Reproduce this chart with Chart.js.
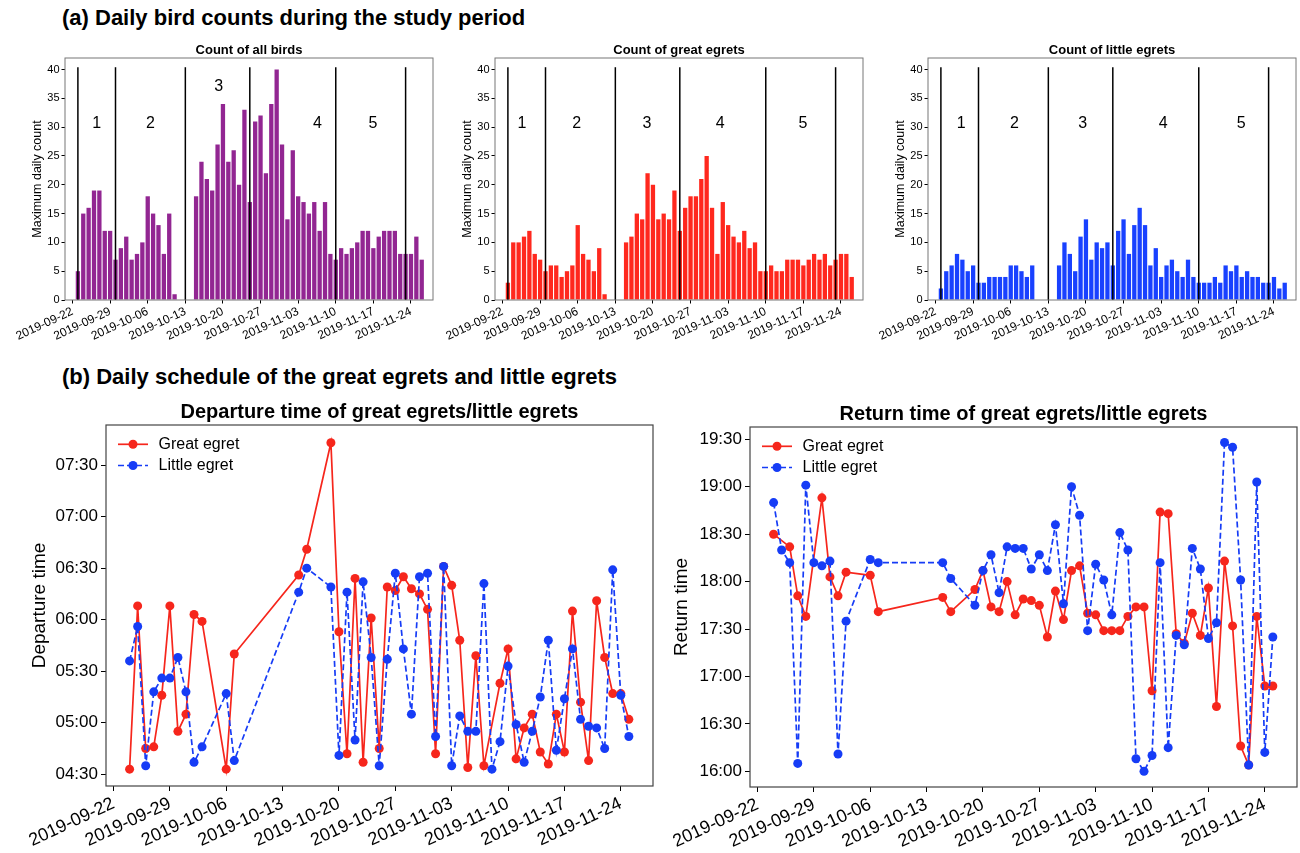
<!DOCTYPE html>
<html><head><meta charset="utf-8">
<script src="https://cdn.jsdelivr.net/npm/chart.js@4.4.1/dist/chart.umd.min.js"></script>
<style>
html,body{margin:0;padding:0;background:#fff;width:1300px;height:853px;overflow:hidden;}
.hdr{position:absolute;left:62px;font-family:"Liberation Sans",Arial,Helvetica,sans-serif;font-weight:bold;font-size:22px;color:#000;line-height:1;white-space:nowrap;z-index:2;}
canvas{position:absolute;}
</style></head><body>
<div class="hdr" style="top:7px">(a) Daily bird counts during the study period</div>
<div class="hdr" style="top:366px">(b) Daily schedule of the great egrets and little egrets</div>
<canvas id="c1"></canvas><canvas id="c2"></canvas><canvas id="c3"></canvas>
<canvas id="c4"></canvas><canvas id="c5"></canvas>
<script>
// ---------------- DATA ----------------
const dateTickLabels = ["2019-09-22","2019-09-29","2019-10-06","2019-10-13","2019-10-20","2019-10-27","2019-11-03","2019-11-10","2019-11-17","2019-11-24"];
const countTicks = [0,5,10,15,20,25,30,35,40];
const periodBoundaries = ["2019-09-23","2019-09-30","2019-10-13","2019-10-25","2019-11-10","2019-11-23"];
const periodNames = ["1","2","3","4","5"];

const barDates = ["2019-09-23","2019-09-24","2019-09-25","2019-09-26","2019-09-27","2019-09-28","2019-09-29","2019-09-30",
"2019-10-01","2019-10-02","2019-10-03","2019-10-04","2019-10-05","2019-10-06","2019-10-07","2019-10-08","2019-10-09","2019-10-10","2019-10-11",
"2019-10-15","2019-10-16","2019-10-17","2019-10-18","2019-10-19","2019-10-20","2019-10-21","2019-10-22","2019-10-23","2019-10-24","2019-10-25",
"2019-10-26","2019-10-27","2019-10-28","2019-10-29","2019-10-30","2019-10-31",
"2019-11-01","2019-11-02","2019-11-03","2019-11-04","2019-11-05","2019-11-06","2019-11-07","2019-11-08","2019-11-09","2019-11-10",
"2019-11-11","2019-11-12","2019-11-13","2019-11-14","2019-11-15","2019-11-16","2019-11-17","2019-11-18","2019-11-19","2019-11-20",
"2019-11-21","2019-11-22","2019-11-23","2019-11-24","2019-11-25","2019-11-26"];
const allBirdsCount = [5,15,16,19,19,12,12,7,9,11,7,8,10,18,15,13,8,15,1,
18,24,21,19,27,34,24,26,20,33,17,31,32,22,34,40,27,
14,26,18,17,15,17,12,17,8,7,9,8,9,10,12,12,9,11,12,12,12,8,8,8,11,7];
const greatEgretCount = [3,10,10,11,12,8,7,5,6,6,4,5,6,13,8,7,5,9,1,
10,11,15,14,22,20,14,15,14,19,12,16,18,18,21,25,16,
8,17,13,11,10,12,9,10,5,5,6,5,5,7,7,7,6,7,8,7,8,6,7,8,8,4];
const littleEgretCount = [2,5,6,8,7,5,6,3,3,4,4,4,4,6,6,5,4,6,0,
6,10,8,5,11,14,7,10,9,10,6,12,14,8,13,16,13,
6,9,4,6,7,5,4,7,4,3,3,3,4,3,6,5,6,4,5,4,4,3,3,4,2,3];

const scheduleDates = ["2019-09-24","2019-09-25","2019-09-26","2019-09-27","2019-09-28","2019-09-29","2019-09-30","2019-10-01","2019-10-02","2019-10-03",
"2019-10-06","2019-10-07","2019-10-15","2019-10-16","2019-10-19",
"2019-10-20","2019-10-21","2019-10-22","2019-10-23","2019-10-24","2019-10-25","2019-10-26","2019-10-27","2019-10-28","2019-10-29","2019-10-30","2019-10-31",
"2019-11-01","2019-11-02","2019-11-03","2019-11-04","2019-11-05","2019-11-06","2019-11-07","2019-11-08","2019-11-09","2019-11-10",
"2019-11-11","2019-11-12","2019-11-13","2019-11-14","2019-11-15","2019-11-16","2019-11-17","2019-11-18","2019-11-19","2019-11-20",
"2019-11-21","2019-11-22","2019-11-23","2019-11-24","2019-11-25"];
const greatDeparture = ["04:33","06:08","04:45","04:46","05:16","06:08","04:55","05:05","06:03","05:59",
"04:33","05:40","06:26","06:41","07:43",
"05:53","04:42","06:24","04:37","06:01","04:45","06:19","06:17","06:25","06:18","06:15","06:06",
"04:42","06:31","06:20","05:48","04:34","05:39","04:35",null,"05:23","05:43",
"04:39","04:57","05:05","04:43","04:36","05:05","04:43","06:05","05:12","04:38",
"06:11","05:38","05:17","05:17","05:02"];
const littleDeparture = ["05:36","05:56","04:35","05:18","05:26","05:26","05:38","05:18","04:37","04:46",
"05:17","04:38","06:16","06:30","06:19",
"04:41","06:16","04:50","06:22","05:38","04:35","05:37","06:27","05:43","05:05","06:25","06:27",
"04:52","06:31","04:35","05:04","04:55","04:55","06:21","04:33","04:49","05:33",
"04:59","04:37","04:55","05:15","05:48","04:44","05:14","05:43","05:02","04:58",
"04:57","04:45","06:29","05:16","04:52"];
const greatReturn = ["18:30",null,"18:22","17:51","17:38",null,"18:53","18:03","17:51","18:06",
"18:04","17:41","17:50","17:41","17:55",
"18:07","17:44","17:41","18:00","17:39","17:49","17:48","17:45","17:25","17:54","17:36","18:07",
"18:10","17:40","17:39","17:29","17:29","17:29","17:38","17:44","17:44","16:51",
"18:44","18:43","17:27","17:21","17:40","17:26","17:56","16:41","18:13","17:32",
"16:16","16:04","17:38","16:54","16:54"];
const littleReturn = ["18:50","18:20","18:12","16:05","19:01","18:12","18:10","18:13","16:11","17:35",
"18:14","18:12","18:12","18:02","17:45",
"18:07","18:17","17:53","18:22","18:21","18:21","18:08","18:17","18:07","18:36","17:46","19:00",
"18:42","17:29","18:11","18:01","17:39","18:31","18:20","16:08","16:00","16:10",
"18:12","16:15","17:26","17:20","18:21","18:08","17:24","17:34","19:28","19:25",
"18:01","16:04","19:03","16:12","17:25"];
const departureTicks = ["04:30","05:00","05:30","06:00","06:30","07:00","07:30"];
const returnTicks = ["16:00","16:30","17:00","17:30","18:00","18:30","19:00","19:30"];

// ---------------- HELPERS ----------------
const FONT = '"Liberation Sans", Arial, Helvetica, sans-serif';
Chart.defaults.font.family = FONT;
Chart.defaults.color = '#000';
const T0 = Date.UTC(2019, 8, 22);
function dayIndex(s){const p=s.split('-').map(Number);return Math.round((Date.UTC(p[0],p[1]-1,p[2])-T0)/86400000);}
function toMin(s){const p=s.split(':').map(Number);return p[0]*60+p[1];}

function decor(cfg){
  return {id:'decor_'+cfg.id, afterDatasetsDraw(chart){
    const ctx=chart.ctx, ca=chart.chartArea, xs=chart.scales.x, ys=chart.scales.y;
    ctx.save();
    ctx.strokeStyle=cfg.frameColor; ctx.lineWidth=cfg.frameWidth;
    ctx.strokeRect(ca.left, ca.top, ca.right-ca.left, ca.bottom-ca.top);
    ctx.fillStyle='#000'; ctx.textAlign='center'; ctx.textBaseline='middle';
    if(cfg.labels){
      ctx.font=cfg.labelFont;
      cfg.labels.forEach((l,i)=>ctx.fillText(periodNames[i], xs.getPixelForValue(l[0]), ys.getPixelForValue(l[1])));
    }
    if(cfg.legend){
      cfg.legend.forEach((e,i)=>{
        const y=ca.top+(i?40.5:19.3), x0=ca.left+12, x1=ca.left+42;
        ctx.strokeStyle=e.color; ctx.lineWidth=1.7; ctx.setLineDash(e.dash||[]);
        ctx.beginPath(); ctx.moveTo(x0,y); ctx.lineTo(x1,y); ctx.stroke(); ctx.setLineDash([]);
        ctx.fillStyle=e.color; ctx.beginPath(); ctx.arc((x0+x1)/2,y,4.5,0,Math.PI*2); ctx.fill();
        ctx.fillStyle='#000'; ctx.font='16px '+FONT; ctx.textAlign='left';
        ctx.fillText(e.text, ca.left+52.5, y+0.5);
      });
      ctx.textAlign='center';
    }
    ctx.fillStyle='#000';
    ctx.font=cfg.titleFont;
    ctx.fillText(cfg.title,(ca.left+ca.right)/2, ca.top-cfg.titleGap);
    ctx.translate(ca.left-cfg.yTitleGap,(ca.top+ca.bottom)/2); ctx.rotate(-Math.PI/2);
    ctx.font=cfg.yTitleFont; ctx.fillText(cfg.yTitle,0,0);
    ctx.restore();
  }};
}

function setupCanvas(id, cl, ct, cw, ch){
  const cv=document.getElementById(id);
  cv.width=cw; cv.height=ch; cv.style.left=cl+'px'; cv.style.top=ct+'px';
  cv.style.width=cw+'px'; cv.style.height=ch+'px';
  return cv;
}

function makeBar(id, L, T, R, B, values, color, title, labelPos){
  const cl=L-65, ct=30, cw=R+8-cl, ch=362-ct;
  const cv=setupCanvas(id,cl,ct,cw,ch);
  const lines=periodBoundaries.map(d=>({type:'line', data:[{x:dayIndex(d),y:0},{x:dayIndex(d),y:40.4}],
    borderColor:'#000', borderWidth:1.5, pointRadius:0, fill:false}));
  const bars={type:'bar', data:barDates.map((d,i)=>({x:dayIndex(d), y:values[i]})),
    backgroundColor:color, borderWidth:0, barPercentage:1, categoryPercentage:0.8};
  new Chart(cv,{type:'bar', data:{datasets:[...lines,bars]},
    options:{responsive:false, animation:false, events:[],
      layout:{padding:{left:0,right:8,top:T-ct,bottom:0}},
      plugins:{legend:{display:false}, tooltip:{enabled:false}},
      scales:{
        x:{type:'linear', min:-1.4, max:67.1, offset:false,
          grid:{drawOnChartArea:false, tickLength:3.5, color:'#000', offset:false}, border:{display:false},
          afterBuildTicks:s=>{s.ticks=dateTickLabels.map(t=>({value:dayIndex(t)}));},
          afterFit:s=>{s.height=ct+ch-B;},
          ticks:{autoSkip:false, minRotation:25, maxRotation:25, padding:1, font:{size:12}, callback:(v,i)=>dateTickLabels[i]}},
        y:{min:0, max:42,
          grid:{drawOnChartArea:false, tickLength:3.5, color:'#000'}, border:{display:false},
          afterBuildTicks:s=>{s.ticks=countTicks.map(v=>({value:v}));},
          afterFit:s=>{s.width=L-cl;},
          ticks:{padding:2, font:{size:11}, callback:(v,i)=>String(countTicks[i])}}
      }},
    plugins:[decor({id, frameColor:'#777', frameWidth:1, title, titleFont:'bold 13px '+FONT, titleGap:8,
      yTitle:'Maximum daily count', yTitleFont:'12.5px '+FONT, yTitleGap:27,
      labels:labelPos, labelFont:'16px '+FONT})]
  });
}

const RED='rgb(246,38,28)', BLUE='rgb(22,60,246)';
function makeLine(id, L, T, R, B, cl, great, little, tickLabels, yMin, yMax, title, yTitle, yGap){
  const ct=395, cw=R+6-cl, ch=853-ct;
  const cv=setupCanvas(id,cl,ct,cw,ch);
  const pts=vals=>scheduleDates.map((d,i)=>vals[i]==null?null:{x:dayIndex(d), y:toMin(vals[i])}).filter(p=>p);
  const ds=(vals,color,dash)=>({type:'line', data:pts(vals), borderColor:color, backgroundColor:color, borderWidth:1.7,
    borderDash:dash, pointRadius:4.5, pointBorderWidth:0, pointBackgroundColor:color, tension:0, fill:false, clip:false});
  new Chart(cv,{type:'line', data:{datasets:[ds(little,BLUE,[6,3]), ds(great,RED,[])]},
    options:{responsive:false, animation:false, events:[],
      layout:{padding:{left:0,right:6,top:T-ct,bottom:0}},
      plugins:{legend:{display:false}, tooltip:{enabled:false}},
      scales:{
        x:{type:'linear', min:-0.93, max:67.0, offset:false,
          grid:{drawOnChartArea:false, tickLength:5, color:'#000'}, border:{display:false},
          afterBuildTicks:s=>{s.ticks=dateTickLabels.map(t=>({value:dayIndex(t)}));},
          afterFit:s=>{s.height=ct+ch-B;},
          ticks:{autoSkip:false, minRotation:25, maxRotation:25, padding:2, font:{size:18}, callback:(v,i)=>dateTickLabels[i]}},
        y:{min:yMin, max:yMax,
          grid:{drawOnChartArea:false, tickLength:5, color:'#000'}, border:{display:false},
          afterBuildTicks:s=>{s.ticks=tickLabels.map(t=>({value:toMin(t)}));},
          afterFit:s=>{s.width=L-cl;},
          ticks:{padding:3, font:{size:17}, callback:(v,i)=>tickLabels[i]}}
      }},
    plugins:[decor({id, frameColor:'#444', frameWidth:1.2, title, titleFont:'bold 20px '+FONT, titleGap:13,
      yTitle, yTitleFont:'19px '+FONT, yTitleGap:yGap,
      legend:[{text:'Great egret', color:RED},{text:'Little egret', color:BLUE, dash:[6,3]}]})]
  });
}

makeBar('c1', 65, 58, 433, 300, allBirdsCount, 'rgb(146,38,146)', 'Count of all birds',
  [[4.5,30.7],[14.5,30.7],[27.2,37.1],[45.6,30.7],[55.9,30.7]]);
makeBar('c2', 495, 58, 863, 300, greatEgretCount, 'rgb(255,40,30)', 'Count of great egrets',
  [[3.6,30.7],[13.8,30.7],[26.9,30.7],[40.5,30.7],[55.9,30.7]]);
makeBar('c3', 928, 58, 1296, 300, littleEgretCount, 'rgb(25,65,255)', 'Count of little egrets',
  [[4.8,30.7],[14.7,30.7],[27.4,30.7],[42.4,30.7],[56.9,30.7]]);
makeLine('c4', 106, 425, 653, 786, 0, greatDeparture, littleDeparture, departureTicks, 263.2, 473.3,
  'Departure time of great egrets/little egrets', 'Departure time', 66);
makeLine('c5', 750, 427, 1297, 787, 650, greatReturn, littleReturn, returnTicks, 950.1, 1177.8,
  'Return time of great egrets/little egrets', 'Return time', 68);
</script>
</body></html>
